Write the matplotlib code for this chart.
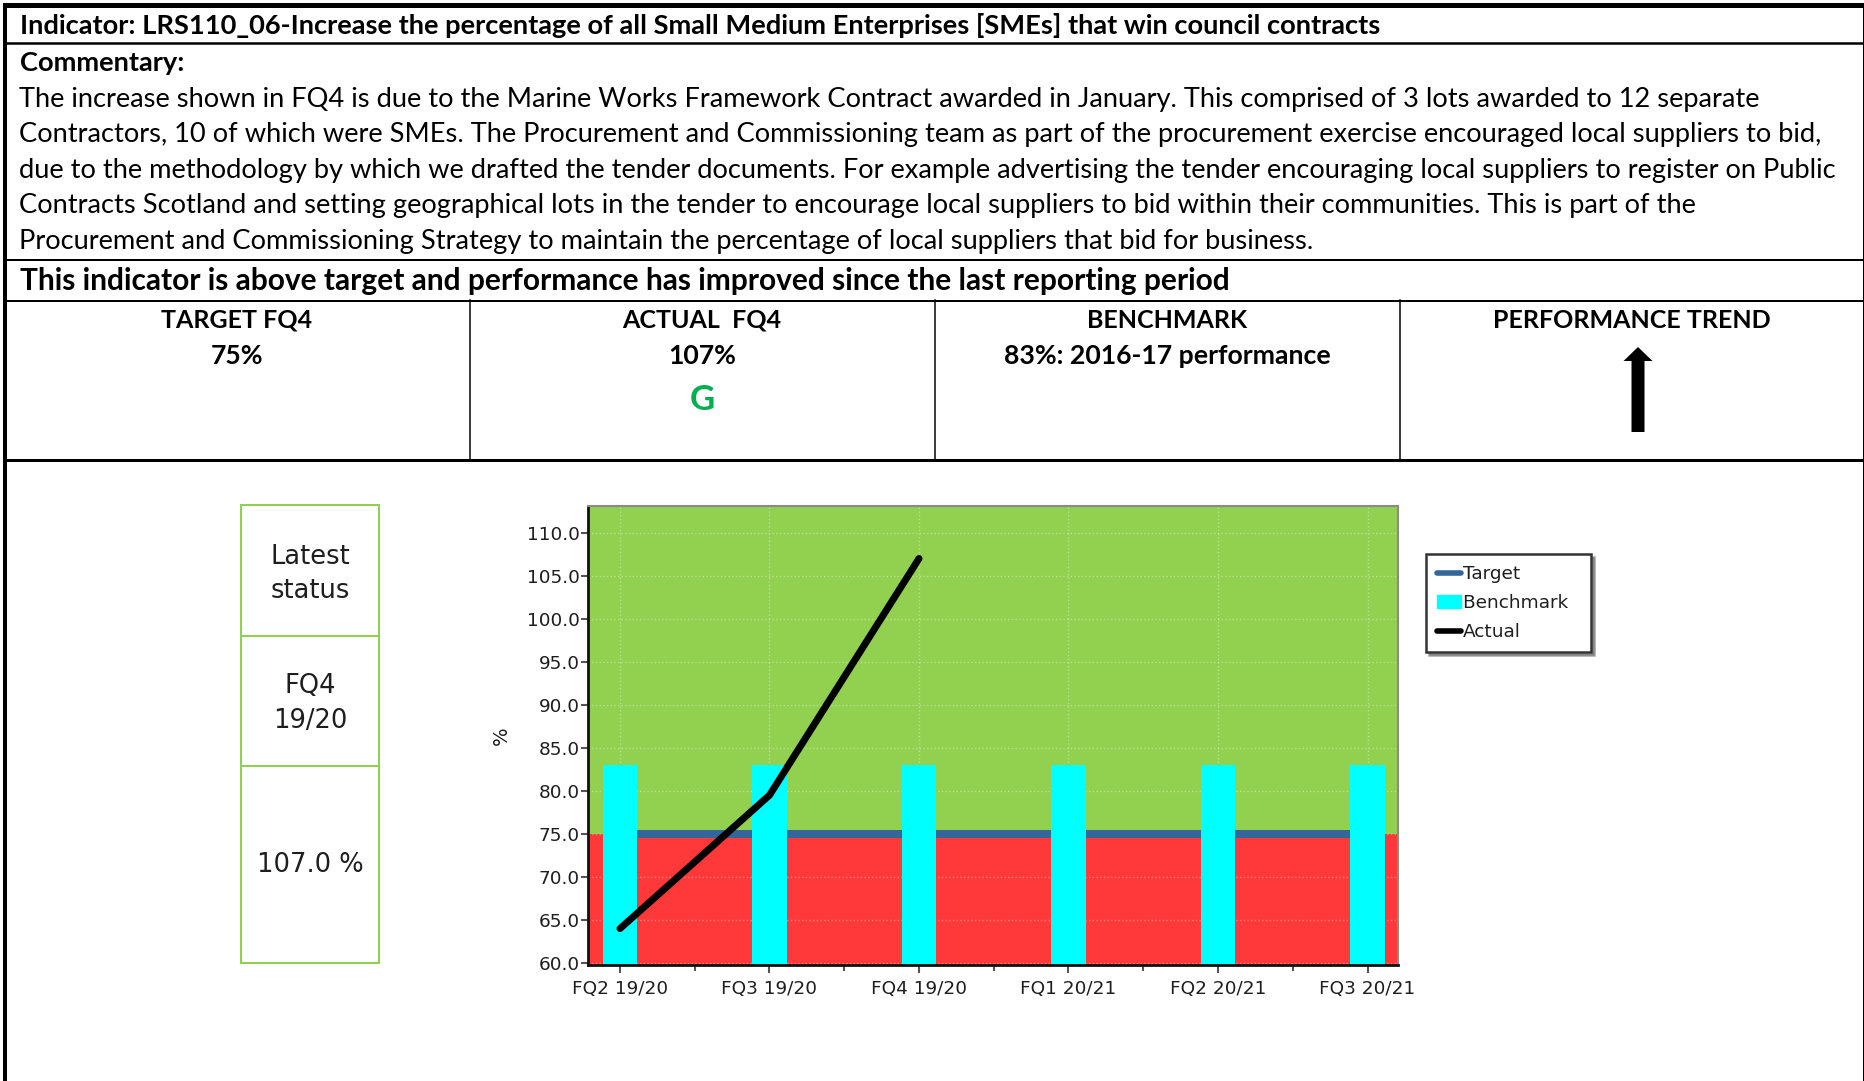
import matplotlib
matplotlib.use("Agg")
import matplotlib.pyplot as plt
import matplotlib.patches as mpatches
from matplotlib.lines import Line2D

# ---- data -------------------------------------------------------------
periods = ["FQ2 19/20", "FQ3 19/20", "FQ4 19/20", "FQ1 20/21", "FQ2 20/21", "FQ3 20/21"]
target = [75, 75, 75, 75, 75, 75]
benchmark = [83, 83, 83, 83, 83, 83]
actual = [64.0, 79.5, 107.0]          # only first three quarters reported
y_ticks = [60, 65, 70, 75, 80, 85, 90, 95, 100, 105, 110]

header = "Indicator: LRS110_06-Increase the percentage of all Small Medium Enterprises [SMEs] that win council contracts"
commentary = [
    "The increase shown in FQ4 is due to the Marine Works Framework Contract awarded in January. This comprised of 3 lots awarded to 12 separate",
    "Contractors, 10 of which were SMEs. The Procurement and Commissioning team as part of the procurement exercise encouraged local suppliers to bid,",
    "due to the methodology by which we drafted the tender documents. For example advertising the tender encouraging local suppliers to register on Public",
    "Contracts Scotland and setting geographical lots in the tender to encourage local suppliers to bid within their communities. This is part of the",
    "Procurement and Commissioning Strategy to maintain the percentage of local suppliers that bid for business.",
]
summary = "This indicator is above target and performance has improved since the last reporting period"
col_heads = ["TARGET FQ4", "ACTUAL  FQ4", "BENCHMARK", "PERFORMANCE TREND"]
col_values = ["75%", "107%", "83%: 2016-17 performance", ""]
status_cells = ["Latest\nstatus", "FQ4\n19/20", "107.0 %"]

GREEN = "#92D050"
RED = "#FF3939"
CYAN = "#00FFFF"
BLUE = "#336699"
TXT = "#1e1e1e"

W, H = 1865, 1081
fig = plt.figure(figsize=(W / 100, H / 100), dpi=100)

# page layer in pixel coordinates
page = fig.add_axes([0, 0, 1, 1])
page.set_xlim(0, W)
page.set_ylim(H, 0)
page.axis("off")

def px(v):
    return v * 72 / 100

# outer frame and table rules
page.plot([3, W], [5, 5], color="black", lw=px(5), solid_capstyle="butt")
page.plot([5, 5], [3, H], color="black", lw=px(4), solid_capstyle="butt")
page.plot([1863.5, 1863.5], [3, H], color="black", lw=px(3), solid_capstyle="butt")
for yy, w in [(43, 2.5), (260, 2), (300.5, 2), (460, 3)]:
    page.plot([5, 1863], [yy, yy], color="black", lw=px(w), solid_capstyle="butt")
for xx in [470, 935, 1400]:
    page.plot([xx, xx], [300, 460], color="black", lw=px(1.5))

font_top = "Lato"
page.text(20, 26, header, fontsize=19.6, fontweight="bold", family=font_top, va="center")
page.text(20, 63, "Commentary:", fontsize=19.6, fontweight="bold", family=font_top, va="center")
for i, line in enumerate(commentary):
    page.text(19, 99 + i * 35.6, line, fontsize=19.6, family=font_top, va="center")
page.text(20, 281, summary, fontsize=21.5, fontweight="bold", family=font_top, va="center")

col_x = [237, 702, 1167, 1632]
for cx, head, val in zip(col_x, col_heads, col_values):
    page.text(cx, 320, head, fontsize=18, fontweight="bold", family=font_top,
              ha="center", va="center")
    if val:
        page.text(cx, 356, val, fontsize=19.2, fontweight="bold", family=font_top,
                  ha="center", va="center")
page.text(702, 400, "G", fontsize=25, fontweight="bold", family=font_top,
          color="#00B050", ha="center", va="center")

# performance trend arrow
page.add_patch(mpatches.FancyArrow(1638, 432, 0, -85, width=13, head_width=29,
                                   head_length=14, length_includes_head=True,
                                   color="black", lw=0))

# latest status box
for top, bot in [(505, 636), (636, 766), (766, 963)]:
    page.add_patch(mpatches.Rectangle((241, top), 138, bot - top, fill=False,
                                      edgecolor=GREEN, lw=px(2)))
for (cy, s) in zip([574, 704, 865], status_cells):
    page.text(310, cy, s, fontsize=18.5, family="DejaVu Sans", color=TXT,
              ha="center", va="center", linespacing=1.45)

# ---- chart ------------------------------------------------------------
ax = fig.add_axes([588 / W, 1 - 965 / H, 810 / W, 459 / H])
x = list(range(len(periods)))
ax.set_xlim(-0.214, 5.204)
ax.set_ylim(59.77, 113.1)

ax.axhspan(59.77, 75, color=RED, zorder=0.1, lw=0)
ax.axhspan(75, 113.1, color=GREEN, zorder=0.1, lw=0)
ax.set_axisbelow(True)
ax.grid(True, color="white", alpha=0.35, linestyle=":", linewidth=1)

ax.plot(x, target, color=BLUE, lw=px(8), solid_capstyle="butt", zorder=1.5, label="Target")
ax.bar(x, [b - 59.77 for b in benchmark], bottom=59.77, width=0.234, color=CYAN,
       zorder=2, label="Benchmark")
ax.plot(x[:len(actual)], actual, color="black", lw=px(7), solid_capstyle="round",
        solid_joinstyle="round", zorder=3, label="Actual")

ax.set_xticks(x)
ax.set_xticklabels(periods)
ax.set_xticks([i + 0.5 for i in x[:-1]], minor=True)
ax.set_yticks(y_ticks)
ax.set_yticklabels([f"{v:.1f}" for v in y_ticks])
ax.tick_params(axis="both", which="both", colors="#555555", labelcolor=TXT,
               labelsize=13.3, width=1.5)
ax.tick_params(axis="y", length=5, pad=1)
ax.tick_params(axis="x", which="major", length=6, pad=5)
ax.tick_params(axis="x", which="minor", length=4)
for lab in ax.get_xticklabels() + ax.get_yticklabels():
    lab.set_family("DejaVu Sans")

for side in ["left", "bottom"]:
    ax.spines[side].set_color("#111111")
    ax.spines[side].set_linewidth(2)
for side in ["top", "right"]:
    ax.spines[side].set_color("#8a8a8a")
    ax.spines[side].set_linewidth(1.5)

ax.set_ylabel("%", fontsize=14, family="DejaVu Sans", color=TXT)
ax.yaxis.set_label_coords(-0.095, 0.5)

handles = [
    Line2D([0], [0], color=BLUE, lw=4, solid_capstyle="round"),
    mpatches.Patch(color=CYAN),
    Line2D([0], [0], color="black", lw=4, solid_capstyle="round"),
]
leg = fig.legend(handles, ["Target", "Benchmark  ", "Actual"],
                 loc="upper left", bbox_to_anchor=(1426 / W, 1 - 554 / H),
                 bbox_transform=fig.transFigure, borderaxespad=0,
                 fancybox=False, shadow=True, framealpha=1, edgecolor="#333333",
                 handlelength=1.3, handletextpad=0.1, labelspacing=0.6,
                 borderpad=0.6, prop={"family": "DejaVu Sans", "size": 13.3})
leg.get_frame().set_linewidth(1.8)
for t in leg.get_texts():
    t.set_color(TXT)

fig.savefig("out.png", dpi=100, facecolor="white")
